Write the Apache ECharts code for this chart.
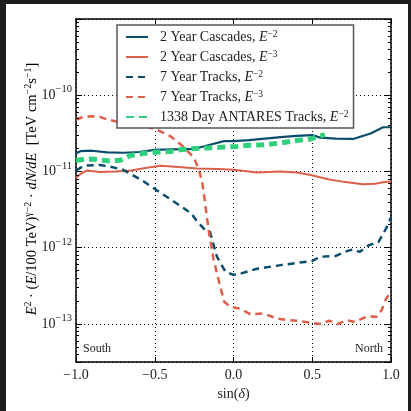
<!DOCTYPE html>
<html>
<head>
<meta charset="utf-8">
<script src="https://cdn.jsdelivr.net/npm/echarts@6/dist/echarts.min.js"></script>
<style>
  body { margin: 0; background: #1e1e1e; }
  #main { position: absolute; left: 6px; top: 4px; width: 402px; height: 407px; background: #fff; }
</style>
</head>
<body>
<div id="main"></div>
<script>
// sin(declination) positions and sensitivity values
const casc2X = [-1, -0.97, -0.9, -0.8, -0.7, -0.6, -0.5, -0.4, -0.3, -0.25, -0.15, -0.06, 0, 0.1, 0.2, 0.3, 0.4, 0.5, 0.55, 0.65, 0.76, 0.87, 0.95, 1];
const casc2Y = [1.72e-11, 1.85e-11, 1.87e-11, 1.78e-11, 1.76e-11, 1.80e-11, 1.92e-11, 1.95e-11, 1.96e-11, 1.97e-11, 2.24e-11, 2.50e-11, 2.50e-11, 2.58e-11, 2.70e-11, 2.82e-11, 2.93e-11, 3.00e-11, 2.78e-11, 2.70e-11, 2.67e-11, 3.15e-11, 3.80e-11, 3.80e-11];

const casc3X = [-1, -0.97, -0.93, -0.85, -0.75, -0.65, -0.55, -0.46, -0.35, -0.23, -0.1, 0, 0.15, 0.3, 0.4, 0.49, 0.6, 0.7, 0.82, 0.9, 0.95, 1];
const casc3Y = [8.2e-12, 9.3e-12, 1.03e-11, 9.8e-12, 1.0e-11, 1.03e-11, 1.12e-11, 1.19e-11, 1.14e-11, 1.09e-11, 1.08e-11, 1.05e-11, 9.7e-12, 1.0e-11, 9.7e-12, 9.0e-12, 7.9e-12, 7.3e-12, 6.8e-12, 6.9e-12, 7.2e-12, 7.4e-12];

const trk2X = [-1, -0.95, -0.85, -0.78, -0.7, -0.57, -0.46, -0.36, -0.27, -0.23, -0.18, -0.15, -0.105, -0.05, 0, 0.05, 0.15, 0.3, 0.45, 0.5, 0.55, 0.65, 0.72, 0.76, 0.8, 0.86, 0.92, 0.97, 1];
const trk2Y = [1.03e-11, 1.19e-11, 1.22e-11, 1.15e-11, 1.05e-11, 7.4e-12, 5.2e-12, 3.8e-12, 2.84e-12, 2.2e-12, 1.7e-12, 1.62e-12, 7.6e-13, 4.8e-13, 4.4e-13, 4.6e-13, 5.3e-13, 5.9e-13, 6.5e-13, 6.7e-13, 7.6e-13, 7.8e-13, 9.0e-13, 9.5e-13, 8.8e-13, 1.08e-12, 1.18e-12, 1.8e-12, 2.5e-12];

const trk3X = [-1, -0.95, -0.9, -0.85, -0.8, -0.7, -0.6, -0.49, -0.4, -0.32, -0.25, -0.22, -0.2, -0.18, -0.158, -0.126, -0.084, -0.059, -0.02, 0.043, 0.106, 0.19, 0.275, 0.34, 0.4, 0.5, 0.55, 0.61, 0.66, 0.72, 0.77, 0.85, 0.91, 0.94, 0.97, 1];
const trk3Y = [4.8e-11, 5.2e-11, 5.3e-11, 5.2e-11, 4.8e-11, 4.3e-11, 4.1e-11, 3.55e-11, 2.89e-11, 2.13e-11, 1.5e-11, 1.05e-11, 7.5e-12, 3.8e-12, 1.7e-12, 6.9e-13, 3.07e-13, 1.95e-13, 1.68e-13, 1.58e-13, 1.34e-13, 1.37e-13, 1.18e-13, 1.12e-13, 1.1e-13, 1.03e-13, 1.0e-13, 1.1e-13, 9.9e-14, 1.12e-13, 1.06e-13, 1.26e-13, 1.24e-13, 1.51e-13, 2.16e-13, 2.6e-13];

const antX = [-1, -0.9, -0.8, -0.72, -0.65, -0.55, -0.5, -0.4, -0.34, -0.2, -0.084, 0.02, 0.1, 0.19, 0.3, 0.4, 0.49, 0.58];
const antY = [1.40e-11, 1.46e-11, 1.38e-11, 1.40e-11, 1.63e-11, 1.75e-11, 1.78e-11, 1.83e-11, 1.93e-11, 2.03e-11, 2.07e-11, 2.13e-11, 2.20e-11, 2.24e-11, 2.36e-11, 2.54e-11, 2.67e-11, 3.04e-11];

const seriesNames = ['casc2', 'casc3', 'trk2', 'trk3', 'ant'];
const legendLabels = {
  casc2: ['2 Year Cascades, ', '−2'],
  casc3: ['2 Year Cascades, ', '−3'],
  trk2: ['7 Year Tracks, ', '−2'],
  trk3: ['7 Year Tracks, ', '−3'],
  ant: ['1338 Day ANTARES Tracks, ', '−2']
};

const yDecades = [-13, -12, -11, -10];

const FONT = '"Liberation Serif", "DejaVu Serif", serif';
const INK = '#222';
const BLUE = '#0a4c6c';
const RED = '#dc5f49';
const GREEN = '#2fd07b';

const yMin = Math.pow(10, -13.5);
const yMax = 1e-9;

function zip(xs, ys) {
  return xs.map((x, i) => [x, ys[i]]);
}

// log-axis minor ticks (2..9 x 10^n) drawn as short markLines on both sides
const minorTicks = [];
const dx = 3 / 157.5;
for (let n = -14; n <= -10; n++) {
  for (let k = 2; k <= 9; k++) {
    const v = k * Math.pow(10, n);
    if (v < yMin || v > yMax) continue;
    minorTicks.push([{ coord: [-1, v] }, { coord: [-1 + dx, v] }]);
    minorTicks.push([{ coord: [1 - dx, v] }, { coord: [1, v] }]);
  }
}

function richSet(size, supSize) {
  return {
    p: { width: 7 },
    n: { fontFamily: FONT, fontSize: size, lineHeight: size, color: INK, verticalAlign: 'bottom' },
    i: { fontFamily: FONT, fontSize: size, lineHeight: size, color: INK, fontStyle: 'italic', verticalAlign: 'bottom' },
    s: { fontFamily: FONT, fontSize: supSize, lineHeight: supSize, color: INK, verticalAlign: 'bottom', padding: [0, 0, size - 9, 0] }
  };
}

const chart = echarts.init(document.getElementById('main'));

const axisLineStyle = { color: '#000', width: 1.5 };

const option = {
  animation: false,
  grid: { left: 70, top: 15, width: 315, height: 343 },
  legend: {
    orient: 'vertical',
    left: 111,
    top: 21,
    data: seriesNames,
    itemWidth: 22,
    itemHeight: 14,
    itemGap: 5,
    padding: [4, 5, 4, 8],
    backgroundColor: '#fff',
    borderColor: '#555',
    borderWidth: 1.5,
    borderRadius: 0,
    itemStyle: { color: 'rgba(0,0,0,0)', borderWidth: 0, opacity: 0 },
    formatter: function (name) {
      const l = legendLabels[name];
      return '{p|}{n|' + l[0] + '}{i|E}{s|' + l[1] + '}';
    },
    textStyle: { rich: richSet(14, 9.5) }
  },
  xAxis: [
    {
      type: 'value', min: -1, max: 1, interval: 0.5, position: 'bottom',
      axisLine: { show: true, onZero: false, lineStyle: axisLineStyle },
      axisTick: { show: true, inside: true, length: 5, lineStyle: { color: '#000' } },
      axisLabel: {
        margin: 6, color: INK, fontFamily: FONT, fontSize: 14,
        formatter: v => (v < 0 ? '−' : '') + Math.abs(v).toFixed(1)
      },
      splitLine: { show: true, lineStyle: { color: '#000', type: [1, 3], width: 1 } },
      name: '{n|sin(}{i|δ}{n|)}', nameLocation: 'middle', nameGap: 21,
      nameTextStyle: { rich: richSet(14, 9.5) }
    },
    {
      type: 'value', min: -1, max: 1, interval: 0.5, position: 'top',
      axisLine: { show: true, onZero: false, lineStyle: axisLineStyle },
      axisTick: { show: true, inside: true, length: 5, lineStyle: { color: '#000' } },
      axisLabel: { show: false },
      splitLine: { show: false }
    }
  ],
  yAxis: [
    {
      type: 'log', logBase: 10, min: yMin, max: yMax, position: 'left',
      axisLine: { show: true, onZero: false, lineStyle: axisLineStyle },
      axisTick: { show: true, inside: true, length: 6, lineStyle: { color: '#000' } },
      axisLabel: {
        margin: 4,
        formatter: function (v) {
          const e = Math.log10(v);
          const r = Math.round(e);
          if (Math.abs(e - r) > 0.01 || yDecades.indexOf(r) < 0) return '';
          return '{b|10}{s|−' + Math.abs(r) + '}';
        },
        rich: {
          b: { fontFamily: FONT, fontSize: 14, lineHeight: 14, color: INK, verticalAlign: 'bottom' },
          s: { fontFamily: FONT, fontSize: 10.5, lineHeight: 10.5, color: INK, verticalAlign: 'bottom', padding: [0, 0, 7, 0] }
        }
      },
      splitLine: { show: true, lineStyle: { color: '#000', type: [1, 3], width: 1 } }
    },
    {
      type: 'log', logBase: 10, min: yMin, max: yMax, position: 'right',
      axisLine: { show: true, onZero: false, lineStyle: axisLineStyle },
      axisTick: { show: true, inside: true, length: 6, lineStyle: { color: '#000' } },
      axisLabel: { show: false },
      splitLine: { show: false }
    }
  ],
  series: [
    {
      name: 'casc2', type: 'line', data: zip(casc2X, casc2Y), symbol: 'none',
      lineStyle: { color: BLUE, width: 2.2 }, itemStyle: { color: BLUE },
      markLine: {
        silent: true, symbol: 'none', animation: false,
        label: { show: false },
        lineStyle: { color: '#000', width: 1, type: 'solid' },
        data: minorTicks
      }
    },
    {
      name: 'casc3', type: 'line', data: zip(casc3X, casc3Y), symbol: 'none',
      lineStyle: { color: RED, width: 2 }, itemStyle: { color: RED }
    },
    {
      name: 'trk2', type: 'line', data: zip(trk2X, trk2Y), symbol: 'none',
      lineStyle: { color: BLUE, width: 2.5, type: [7, 5] }, itemStyle: { color: BLUE }
    },
    {
      name: 'trk3', type: 'line', data: zip(trk3X, trk3Y), symbol: 'none',
      lineStyle: { color: RED, width: 2.5, type: [7, 5] }, itemStyle: { color: RED }
    },
    {
      name: 'ant', type: 'line', data: zip(antX, antY), symbol: 'none',
      lineStyle: { color: GREEN, width: 5, type: [8, 5] }, itemStyle: { color: GREEN }
    }
  ],
  graphic: [
    {
      type: 'text', x: 26, y: 185, rotation: Math.PI / 2,
      style: {
        text: '{i|E}{s|2}{n| · (}{i|E}{n|/100 TeV)}{s|γ−2}{n| · }{i|dN/dE}{n|  [TeV cm}{s|−2}{n|s}{s|−1}{n|]}',
        rich: richSet(14.5, 10),
        align: 'center', verticalAlign: 'middle'
      }
    },
    {
      type: 'text', left: 77, top: 339,
      style: { text: 'South', font: '12px ' + FONT, fill: INK }
    },
    {
      type: 'text', right: 25, top: 339,
      style: { text: 'North', font: '12px ' + FONT, fill: INK }
    }
  ]
};

chart.setOption(option);
</script>
</body>
</html>
